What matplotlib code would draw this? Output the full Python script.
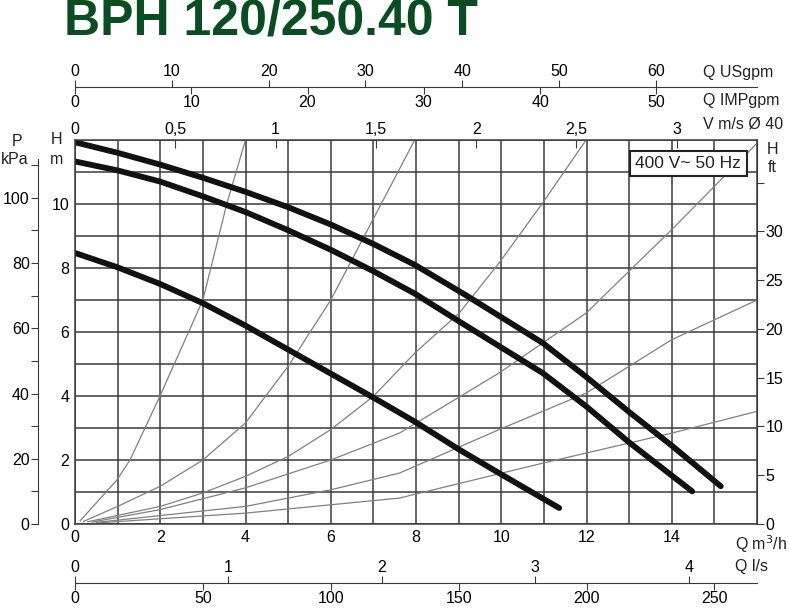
import matplotlib.pyplot as plt
from matplotlib.ticker import FixedLocator, FuncFormatter

plt.rcParams['font.family'] = ['Liberation Sans', 'DejaVu Sans']

# pump curves, Q in m3/h, H in m
q_max = [0, 1, 2, 3, 4, 5, 6, 7, 7.97, 9.17, 10.97, 11.99, 13.0, 14.0, 15.15]
h_max = [11.93, 11.6, 11.23, 10.82, 10.38, 9.9, 9.36, 8.75, 8.1, 7.15, 5.66, 4.6, 3.5, 2.45, 1.18]
q_mid = [0, 1, 2, 3, 4, 5, 6, 7, 7.97, 9.17, 10.97, 11.99, 13.0, 14.48]
h_mid = [11.33, 11.05, 10.7, 10.24, 9.75, 9.18, 8.57, 7.9, 7.2, 6.2, 4.72, 3.68, 2.55, 1.02]
q_min = [0, 1, 2, 3, 4, 5, 6, 7, 7.97, 9.02, 9.95, 11.36]
h_min = [8.47, 8.02, 7.5, 6.9, 6.2, 5.45, 4.7, 3.95, 3.2, 2.32, 1.59, 0.5]

# system curves (thin grey)
sys_q = [
    [0.12, 0.98, 1.29, 1.99, 3.0, 3.56, 4.0],
    [0.2, 1, 2, 3, 4, 5, 6, 7.97],
    [0.3, 2, 3, 4, 5, 6, 7, 7.97, 9.02, 9.95, 10.97, 11.99],
    [0.4, 2, 4, 6, 7.61, 9.95, 11.99, 14.0, 15.0, 16.0],
    [0.5, 4, 6, 7.61, 9.95, 11.99, 14.0, 16.0],
    [0.6, 4, 7.61, 10.97, 14.0, 16.0],
]
sys_h = [
    [0.1, 1.37, 2.0, 3.99, 7.0, 10.0, 12.0],
    [0.08, 0.55, 1.18, 2.0, 3.16, 4.93, 7.0, 12.0],
    [0.07, 0.55, 0.97, 1.49, 2.11, 2.95, 3.99, 5.34, 6.6, 8.16, 10.03, 12.0],
    [0.06, 0.45, 1.13, 2.0, 2.84, 4.72, 6.59, 9.2, 10.55, 11.9],
    [0.05, 0.55, 1.07, 1.59, 2.95, 4.09, 5.76, 7.0],
    [0.04, 0.34, 0.81, 1.9, 2.84, 3.52],
]

us_ticks = [0, 10, 20, 30, 40, 50, 60]
imp_ticks = [0, 10, 20, 30, 40, 50]
v_ticks = [0, 0.5, 1, 1.5, 2, 2.5, 3]
ls_ticks = [0, 1, 2, 3, 4]
lmin_ticks = [0, 50, 100, 150, 200, 250]
kpa_ticks = list(range(0, 120, 10))
ft_ticks = [0, 5, 10, 15, 20, 25, 30, 35]

W, H = 789, 612
fig = plt.figure(figsize=(W / 100, H / 100), dpi=100)
L, R, T, B = 75, 757, 140, 524
fs = 11.5
grid_c = '#3a3a3a'


def fx(px):
    return px / W


def fy(py):
    return 1 - py / H


comma = FuncFormatter(lambda v, p: ('%g' % v).replace('.', ','))

ax = fig.add_axes([fx(L), fy(B), fx(R - L), fy(T) - fy(B)])
ax.set_xlim(0, 16)
ax.set_ylim(0, 12)
ax.set_xticks([v for v in range(17) if v % 2], minor=True)
ax.set_yticks([v for v in range(13) if v % 2 or v > 10], minor=True)
ax.grid(which='both', color=grid_c, lw=1.1)
ax.set_xticks(range(0, 16, 2))
ax.set_yticks(range(0, 12, 2))
ax.tick_params(which='both', length=0, labelsize=fs, pad=4)
for s in ax.spines.values():
    s.set_color(grid_c)
    s.set_linewidth(1.1)

for qs, hs in zip(sys_q, sys_h):
    ax.plot(qs, hs, color='#808080', lw=0.9)
for qs, hs in [(q_max, h_max), (q_mid, h_mid), (q_min, h_min)]:
    ax.plot(qs, hs, color='#111111', lw=4.2, solid_capstyle='round', solid_joinstyle='round')

# velocity ticks on top spine
vax = ax.secondary_xaxis('top', functions=(lambda q: q * 0.2125, lambda v: v / 0.2125))
vax.xaxis.set_major_locator(FixedLocator(v_ticks))
vax.xaxis.set_major_formatter(comma)
vax.tick_params(direction='in', length=6, labelsize=fs, pad=2, color=grid_c)
vax.spines['top'].set_visible(False)

# right H ft
axr = ax.twinx()
axr.set_ylim(0, 12 * 3.281)
axr.set_yticks(ft_ticks)
axr.set_yticklabels([str(t) for t in ft_ticks[:-1]] + [''])
axr.tick_params(direction='out', length=5, labelsize=fs, pad=1, color=grid_c)
for k in ['top', 'left', 'bottom']:
    axr.spines[k].set_visible(False)
axr.spines['right'].set_color(grid_c)

# left P kPa
axp = ax.twinx()
axp.set_ylim(0, 12 * 9.81)
axp.yaxis.set_ticks_position('left')
axp.spines['left'].set_position(('axes', -(L - 38) / (R - L)))
axp.spines['left'].set_bounds(0, 112)
axp.spines['left'].set_color(grid_c)
for k in ['top', 'right', 'bottom']:
    axp.spines[k].set_visible(False)
axp.set_yticks(kpa_ticks)
axp.set_yticklabels([str(t) if t % 20 == 0 and t <= 100 else '' for t in kpa_ticks])
axp.tick_params(direction='out', length=5, labelsize=fs, pad=1, color=grid_c)

# top flow line: USgpm above, IMPgpm below
ya = 87
axt = fig.add_axes([fx(L), fy(ya), fx(R - L), 0.0001])
axt.set_xlim(0, 16 * 4.403)
axt.set_yticks([])
for k in ['left', 'right', 'bottom']:
    axt.spines[k].set_visible(False)
axt.spines['top'].set_color(grid_c)
axt.xaxis.set_ticks_position('top')
axt.set_xticks(us_ticks)
axt.tick_params(direction='out', length=5, labelsize=fs, pad=1, color=grid_c)
axt.patch.set_alpha(0)
imp = axt.secondary_xaxis('bottom', functions=(lambda u: u * 3.666 / 4.403, lambda i: i * 4.403 / 3.666))
imp.xaxis.set_major_locator(FixedLocator(imp_ticks))
imp.tick_params(direction='out', length=5, labelsize=fs, pad=1, color=grid_c)
imp.spines['bottom'].set_visible(False)

# bottom flow line: l/s above, l/min below
yb = 583
axb = fig.add_axes([fx(L), fy(yb), fx(R - L), 0.0001])
axb.set_xlim(0, 16 / 3.6)
axb.set_yticks([])
for k in ['left', 'right', 'bottom']:
    axb.spines[k].set_visible(False)
axb.spines['top'].set_color(grid_c)
axb.xaxis.set_ticks_position('top')
axb.set_xticks(ls_ticks)
axb.tick_params(direction='out', length=5, labelsize=fs, pad=1, color=grid_c)
axb.patch.set_alpha(0)
lmin = axb.secondary_xaxis('bottom', functions=(lambda s: s * 60, lambda m: m / 60))
lmin.xaxis.set_major_locator(FixedLocator(lmin_ticks))
lmin.tick_params(direction='out', length=5, labelsize=fs, pad=1, color=grid_c)
lmin.spines['bottom'].set_visible(False)


def label(px, py, s, ha='left', **kw):
    fig.text(fx(px), fy(py), s, ha=ha, va='center', fontsize=fs, color='#222222', **kw)


label(703, 72, 'Q USgpm')
label(703, 101, 'Q IMPgpm')
label(703, 124, 'V m/s Ø 40')
label(735, 544, 'Q m$^3$/h')
label(735, 567, 'Q l/s')
label(17, 141, 'P', ha='center')
label(15, 159, 'kPa', ha='center')
label(57, 140, 'H', ha='center')
label(57, 160, 'm', ha='center')
label(772, 150, 'H', ha='center')
label(772, 168, 'ft', ha='center')

ax.text(0.977, 0.958, '400 V~ 50 Hz', transform=ax.transAxes, ha='right', va='top',
        fontsize=12.5, color='#222222', zorder=5,
        bbox=dict(boxstyle='square,pad=0.3', fc='white', ec='#222222', lw=1.5))

fig.text(fx(64), fy(22), 'BPH 120/250.40 T', ha='left', va='center', fontsize=36,
         fontweight='bold', color='#0b4d22')

fig.savefig('out.png', dpi=100, facecolor='white')
